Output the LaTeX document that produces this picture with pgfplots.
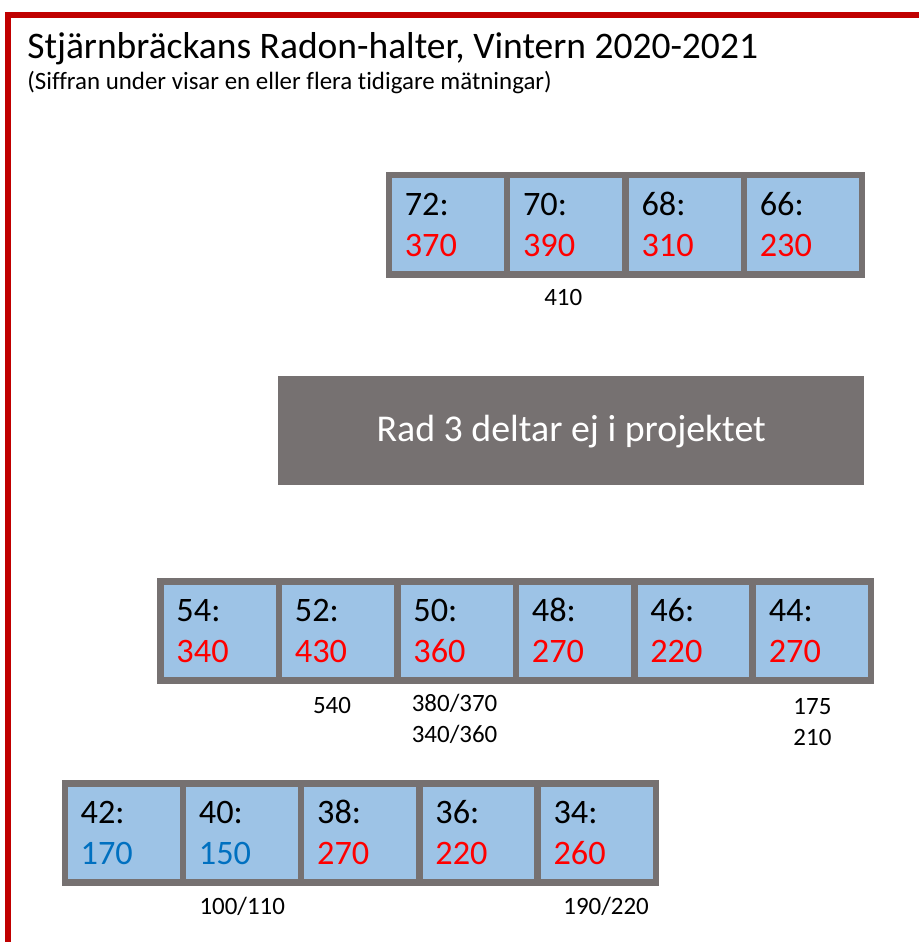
\documentclass[border=0pt]{standalone}
\usepackage{fontspec}
\setmainfont{Carlito}[Ligatures=NoCommon]
\usepackage{pgfplots}
\usepackage{pgfplotstable}
\pgfplotsset{compat=1.18}
\definecolor{cellblue}{HTML}{9DC3E6}
\definecolor{cellgray}{HTML}{767171}
\definecolor{frame}{HTML}{C00000}
\definecolor{vblue}{HTML}{0070C0}
\definecolor{vred}{HTML}{FF0000}

% cells: centre (px), label = house number and measured value
\pgfplotstableread{
x y lab
449.4 225.5 {72:\\\textcolor{vred}{370}}
568.1 225.5 {70:\\\textcolor{vred}{390}}
686.9 225.5 {68:\\\textcolor{vred}{310}}
805.6 225.5 {66:\\\textcolor{vred}{230}}
220.4 633.0 {54:\\\textcolor{vred}{340}}
339.2 633.0 {52:\\\textcolor{vred}{430}}
458.1 633.0 {50:\\\textcolor{vred}{360}}
576.9 633.0 {48:\\\textcolor{vred}{270}}
695.7 633.0 {46:\\\textcolor{vred}{220}}
814.6 633.0 {44:\\\textcolor{vred}{270}}
124.3 835.5 {42:\\\textcolor{vblue}{170}}
242.9 835.5 {40:\\\textcolor{vblue}{150}}
361.5 835.5 {38:\\\textcolor{vred}{270}}
480.1 835.5 {36:\\\textcolor{vred}{220}}
598.7 835.5 {34:\\\textcolor{vred}{260}}
}\cells

% earlier measurements under the cells
\pgfplotstableread{
x y t
565 298 410
333 708 540
456 706 380/370
456 737 340/360
815 709 175
815 740 210
243 909 100/110
608 909 190/220
}\earlier

\begin{document}
\begin{tikzpicture}
\begin{axis}[
  scale only axis,
  x=0.5pt, y=0.5pt,
  xmin=0, xmax=922, ymin=0, ymax=945,
  y dir=reverse,
  hide axis,
  clip=false,
  axis background/.style={fill=white},
]
% red page frame
\draw[frame, line width=3.2pt] (axis cs:5,15) -- (axis cs:922,15);
\draw[frame, line width=3pt] (axis cs:8,13.4) -- (axis cs:8,945);

% title
\node[anchor=base west, inner sep=0pt, font=\fontsize{18.8}{22}\selectfont] at (axis cs:27,59) {Stjärnbräckans Radon-halter, Vintern 2020-2021};
\node[anchor=base west, inner sep=0pt, font=\fontsize{12.5}{15}\selectfont] at (axis cs:27,90) {(Siffran under visar en eller flera tidigare mätningar)};

% grey box
\fill[cellgray] (axis cs:279,377) rectangle (axis cs:867,487);
\node[white, font=\fontsize{19}{22}\selectfont] at (axis cs:573,433) {Rad 3 deltar ej i projektet};

% cells
\addplot[draw=none, mark=none,
  point meta=explicit symbolic,
  nodes near coords={\rule{0pt}{15.5pt}\pgfplotspointmeta\rule[-4.5pt]{0pt}{4.5pt}},
  every node near coord/.append style={anchor=center, rectangle,
    fill=cellblue, draw=cellgray, line width=3.25pt,
    minimum width=59.35pt, minimum height=49.75pt,
    inner xsep=8pt, inner ysep=0pt, text width=43.35pt, align=left,
    font=\fontsize{17.2}{20.5}\selectfont, text=black},
] table[meta=lab] {\cells};

% earlier values
\addplot[draw=none, mark=none,
  point meta=explicit symbolic,
  nodes near coords,
  every node near coord/.append style={anchor=center, inner sep=0pt,
    font=\fontsize{12.5}{15}\selectfont, text=black},
] table[meta=t] {\earlier};
\end{axis}
\end{tikzpicture}
\end{document}
